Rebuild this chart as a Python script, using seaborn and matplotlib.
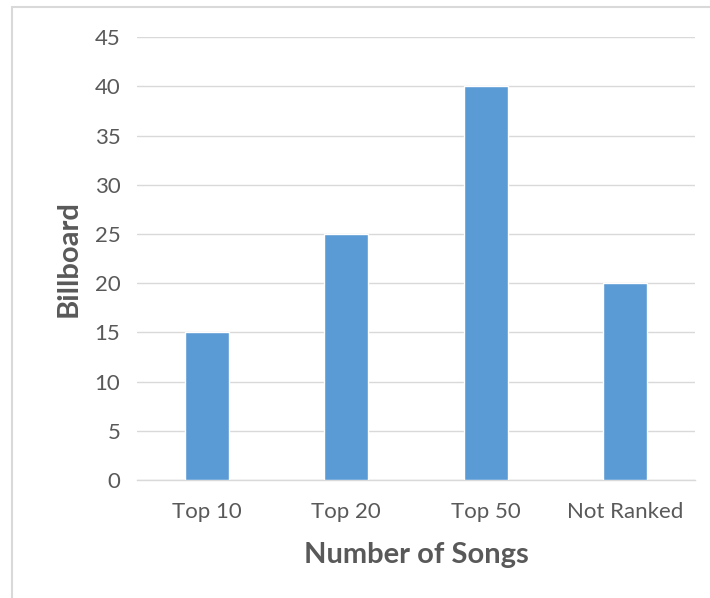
import matplotlib
matplotlib.use("Agg")
import pandas as pd
import seaborn as sns
import matplotlib.pyplot as plt
from matplotlib.patches import Rectangle

# Data
categories = ["Top 10", "Top 20", "Top 50", "Not Ranked"]
billboard = [15, 25, 40, 20]

df = pd.DataFrame({"category": categories, "value": billboard})

sns.set_style("white")
plt.rcParams["font.family"] = ["Lato", "DejaVu Sans"]

fig = plt.figure(figsize=(7.1, 5.98), dpi=100)
ax = fig.add_axes([0.193, 0.197, 0.786, 0.741])

sns.barplot(data=df, x="category", y="value", color="#5B9BD5", width=0.315,
            saturation=1, ax=ax, zorder=3)

ax.set_ylim(0, 45)
ax.set_yticks(range(0, 46, 5))
ax.set_xlim(-0.5, 3.5)
ax.yaxis.grid(True, color="#D9D9D9", linewidth=1, zorder=0)
ax.set_axisbelow(True)

for s in ["top", "right", "left"]:
    ax.spines[s].set_visible(False)
ax.spines["bottom"].set_color("#D9D9D9")
ax.spines["bottom"].set_linewidth(1)

ax.tick_params(axis="both", length=0, labelsize=16, labelcolor="#595959")
ax.tick_params(axis="x", pad=16)
ax.tick_params(axis="y", pad=12)

ax.set_xlabel("Number of Songs", fontsize=21, fontweight="bold", color="#595959", labelpad=14)
ax.set_ylabel("Billboard", fontsize=21, fontweight="bold", color="#595959", labelpad=9)

# outer chart border (Excel style)
fig.patches.append(Rectangle((12 / 710, -0.1), 1.2, 1 - 7 / 598 + 0.1,
                             transform=fig.transFigure, fill=False,
                             edgecolor="#D9D9D9", linewidth=1.5))

fig.savefig("out.png", dpi=100)
